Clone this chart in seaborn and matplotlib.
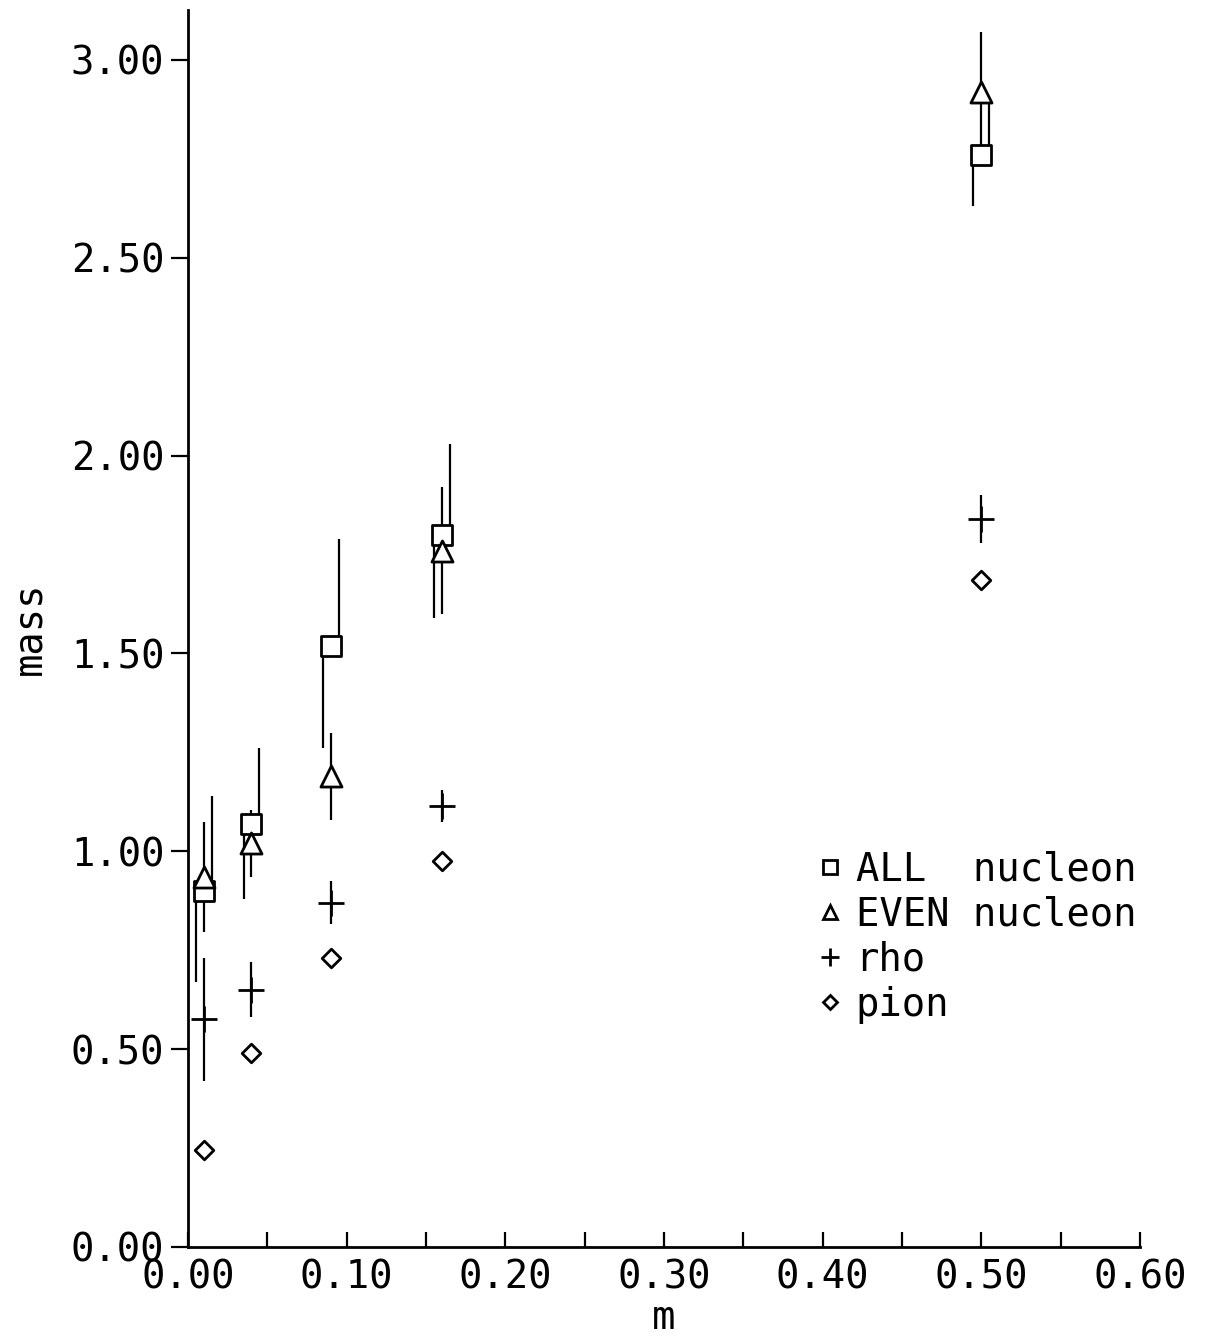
import matplotlib
matplotlib.use("Agg")
import matplotlib.pyplot as plt
import seaborn as sns
import pandas as pd
from matplotlib.lines import Line2D

# quark mass values
m = [0.01, 0.04, 0.09, 0.16, 0.50]

# ALL nucleon: value with asymmetric errors
all_mass = [0.90, 1.07, 1.52, 1.80, 2.76]
all_up = [0.24, 0.19, 0.27, 0.23, 0.13]
all_dn = [0.23, 0.19, 0.26, 0.21, 0.13]

# EVEN nucleon
even_mass = [0.935, 1.02, 1.19, 1.76, 2.92]
even_err = [0.14, 0.085, 0.11, 0.16, 0.15]

# rho
rho_mass = [0.575, 0.65, 0.87, 1.115, 1.84]
rho_err = [0.155, 0.07, 0.055, 0.04, 0.06]

# pion
pion_mass = [0.245, 0.49, 0.73, 0.975, 1.685]

legend_labels = ["ALL  nucleon", "EVEN nucleon", "rho", "pion"]
x_ticks = [0.0, 0.1, 0.2, 0.3, 0.4, 0.5, 0.6]
y_ticks = [0.0, 0.5, 1.0, 1.5, 2.0, 2.5, 3.0]

sns.set_theme(style="white")
plt.rcParams["font.family"] = ["DejaVu Sans Mono", "DejaVu Sans"]
plt.rcParams["text.color"] = "black"
plt.rcParams["axes.labelcolor"] = "black"

fig = plt.figure(figsize=(12.07, 13.40), dpi=100)
ax = fig.add_axes([188 / 1207, 1 - 1247 / 1340, (1140 - 188) / 1207, (1247 - 10) / 1340])

df_all = pd.DataFrame({"m": m, "mass": all_mass, "up": all_up, "dn": all_dn})
df_even = pd.DataFrame({"m": m, "mass": even_mass, "err": even_err})
df_rho = pd.DataFrame({"m": m, "mass": rho_mass, "err": rho_err})
df_pion = pd.DataFrame({"m": m, "mass": pion_mass})

lw_err = 1.6
dx = 0.005
# ALL nucleon: upper error drawn right of the point, lower error left of it
ax.vlines(df_all["m"] + dx, df_all["mass"], df_all["mass"] + df_all["up"], color="black", lw=lw_err)
ax.vlines(df_all["m"] - dx, df_all["mass"] - df_all["dn"], df_all["mass"], color="black", lw=lw_err)
ax.vlines(df_even["m"], df_even["mass"] - df_even["err"], df_even["mass"] + df_even["err"], color="black", lw=lw_err)
ax.vlines(df_rho["m"], df_rho["mass"] - df_rho["err"], df_rho["mass"] + df_rho["err"], color="black", lw=lw_err)

sns.scatterplot(data=df_all, x="m", y="mass", marker="s", s=190, facecolor="white",
                edgecolor="black", linewidth=2.0, ax=ax, zorder=3)
sns.scatterplot(data=df_even, x="m", y="mass", marker="^", s=230, facecolor="white",
                edgecolor="black", linewidth=2.0, ax=ax, zorder=3)
sns.scatterplot(data=df_rho, x="m", y="mass", marker="+", s=340, color="black",
                linewidth=2.0, ax=ax, zorder=3)
sns.scatterplot(data=df_pion, x="m", y="mass", marker="D", s=90, facecolor="white",
                edgecolor="black", linewidth=2.0, ax=ax, zorder=3)

ax.set_xlim(0, 0.6)
ax.set_ylim(0, 3.126)
ax.set_xticks(x_ticks)
ax.set_xticklabels([f"{v:.2f}" for v in x_ticks], fontsize=28)
ax.set_xticks([0.05, 0.15, 0.25, 0.35, 0.45, 0.55], minor=True)
ax.set_yticks(y_ticks)
ax.set_yticklabels([f"{v:.2f}" for v in y_ticks], fontsize=28)

ax.tick_params(axis="x", which="both", direction="in", length=11, width=1.6, pad=8,
               colors="black", bottom=True)
ax.tick_params(axis="y", which="major", direction="out", length=12, width=1.6, pad=5,
               colors="black", left=True)

for side in ["top", "right"]:
    ax.spines[side].set_visible(False)
for side in ["left", "bottom"]:
    ax.spines[side].set_linewidth(2.0)
    ax.spines[side].set_color("black")

ax.set_xlabel("m", fontsize=28, labelpad=2, color="black")
ax.set_ylabel("mass", fontsize=28, labelpad=16, color="black")

handles = [
    Line2D([], [], marker="s", ls="none", mfc="white", mec="black", mew=2.0, ms=10),
    Line2D([], [], marker="^", ls="none", mfc="white", mec="black", mew=2.0, ms=10),
    Line2D([], [], marker="+", ls="none", color="black", mew=2.0, ms=13),
    Line2D([], [], marker="D", ls="none", mfc="white", mec="black", mew=2.0, ms=7),
]
leg = ax.legend(handles, legend_labels, loc="upper left", bbox_to_anchor=(0.642, 0.336),
                frameon=False, prop={"family": "DejaVu Sans Mono", "size": 28},
                handlelength=0.6, handletextpad=0.35, labelspacing=0.18, borderpad=0)
for t in leg.get_texts():
    t.set_color("black")

fig.savefig("out.png", dpi=100, facecolor="white")
